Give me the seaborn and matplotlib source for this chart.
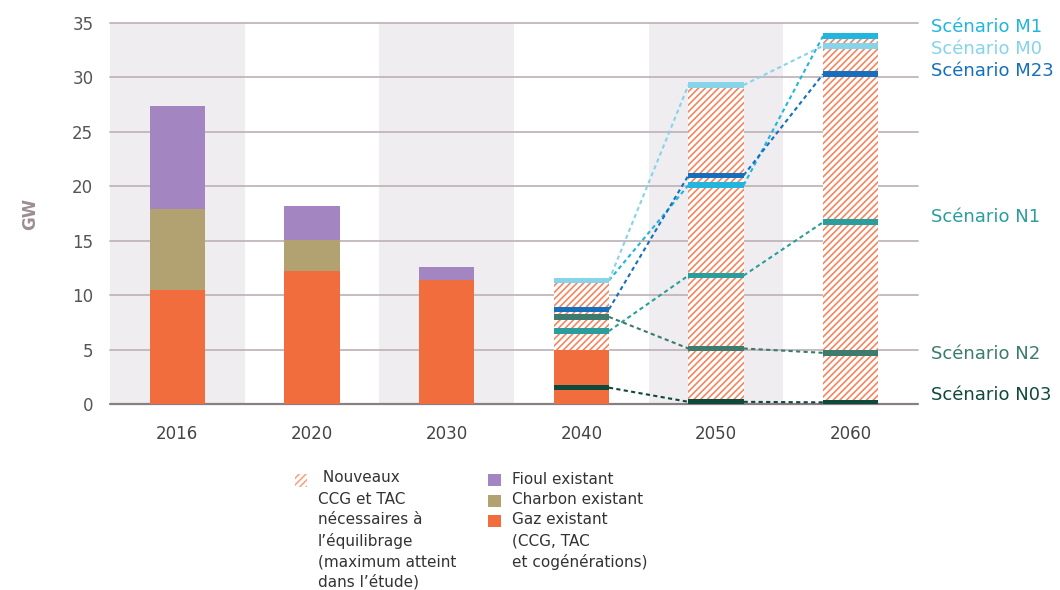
import matplotlib
matplotlib.use("Agg")
import matplotlib.pyplot as plt
from matplotlib.patches import Rectangle
import pandas as pd
import seaborn as sns

# ---- data (GW) ----
years = ["2016", "2020", "2030", "2040", "2050", "2060"]
gaz_existant = [10.5, 12.2, 11.4, 5.0, 0.5, 0.0]
charbon_existant = [7.4, 2.9, 0.0, 0.0, 0.0, 0.0]
fioul_existant = [9.5, 3.1, 1.2, 0.0, 0.0, 0.0]
nouveaux_ccg_tac = [0.0, 0.0, 0.0, 6.6, 29.05, 34.05]

scenario_years = ["2040", "2050", "2060"]
scenario_names = ["Scénario M1", "Scénario M0", "Scénario M23",
                  "Scénario N1", "Scénario N2", "Scénario N03"]
scen_m1 = [11.35, 20.1, 33.8]
scen_m0 = [11.35, 29.3, 32.9]
scen_m23 = [8.7, 21.0, 30.3]
scen_n1 = [6.7, 11.8, 16.7]
scen_n2 = [8.0, 5.1, 4.7]
scen_n03 = [1.5, 0.2, 0.15]

# ---- styling ----
C_GAZ = "#f26d3d"
C_CHARBON = "#b2a272"
C_FIOUL = "#a386c1"
C_HATCH = "#f5865f"
scenario_colors = ["#22b5de", "#86d3ea", "#156fbd", "#2a9e9c", "#3c7b6d", "#0e4a3b"]
label_y = [34.6, 32.6, 30.6, 17.2, 4.6, 0.8]
BAR_W = 0.41
BAND_H = 0.5

sns.set_theme(style="white")
plt.rcParams["font.family"] = ["DejaVu Sans"]
plt.rcParams["hatch.linewidth"] = 1.2

df = pd.DataFrame({
    "year": years,
    "gaz": gaz_existant,
    "charbon": charbon_existant,
    "fioul": fioul_existant,
    "nouveaux": nouveaux_ccg_tac,
})
df["top_gaz"] = df["gaz"]
df["top_charbon"] = df["top_gaz"] + df["charbon"]
df["top_fioul"] = df["top_charbon"] + df["fioul"]
df["top_nouveaux"] = df["top_fioul"] + df["nouveaux"]

fig = plt.figure(figsize=(10.6, 5.9), dpi=100)
ax = fig.add_axes([110 / 1060, 1 - 404 / 590, 808 / 1060, 381 / 590])
ax.set_facecolor("white")

# alternating background bands
for i in range(0, len(years), 2):
    ax.axvspan(i - 0.5, i + 0.5, color="#efedef", zorder=0, lw=0)

# horizontal gridlines
for v in range(0, 36, 5):
    ax.axhline(v, color="#8a7e85" if v == 0 else "#c0b5bb",
               lw=1.6 if v == 0 else 1.3, zorder=0.5, clip_on=False)

# stacked bars: drawn from the tallest cumulative layer down
common = dict(x="year", width=BAR_W, saturation=1, errorbar=None, ax=ax)
sns.barplot(data=df, y="top_nouveaux", color="white", edgecolor=C_HATCH,
            hatch="/////", linewidth=0, zorder=2, **common)
sns.barplot(data=df, y="top_fioul", color=C_FIOUL, linewidth=0, zorder=2, **common)
sns.barplot(data=df, y="top_charbon", color=C_CHARBON, linewidth=0, zorder=2, **common)
sns.barplot(data=df, y="top_gaz", color=C_GAZ, linewidth=0, zorder=2, **common)

# scenario levels and dotted connectors
scenarios = [scen_m1, scen_m0, scen_m23, scen_n1, scen_n2, scen_n03]
xpos = [years.index(y) for y in scenario_years]
for vals, col in zip(scenarios, scenario_colors):
    for k in range(len(xpos) - 1):
        ax.plot([xpos[k] + BAR_W / 2, xpos[k + 1] - BAR_W / 2],
                [vals[k], vals[k + 1]], color=col, lw=1.5,
                ls=(0, (2, 1.6)), zorder=3)
order = [3, 4, 2, 0, 1, 5]
for idx in order:
    vals, col = scenarios[idx], scenario_colors[idx]
    ax.bar(xpos, [BAND_H] * len(vals), bottom=[v - BAND_H / 2 for v in vals],
           width=BAR_W, color=col, lw=0, zorder=4)

for name, y, col in zip(scenario_names, label_y, scenario_colors):
    ax.text(1.016, y, name, transform=ax.get_yaxis_transform(), color=col,
            fontsize=13, va="center", ha="left", clip_on=False)

ax.set_xlim(-0.5, len(years) - 0.5)
ax.set_ylim(0, 35)
ax.set_yticks(range(0, 36, 5))
for s in ax.spines.values():
    s.set_visible(False)
ax.tick_params(axis="y", length=0, pad=12, labelsize=12, labelcolor="#555555")
ax.tick_params(axis="x", length=0, pad=15, labelsize=12, labelcolor="#444444")
ax.set_xlabel("")
ax.set_ylabel("GW", fontsize=12, fontweight="bold", color="#9c8c93", labelpad=24)
ax.grid(False)


# ---- legend below the chart ----
def fx(px):
    return px / 1060


def fy(py):
    return 1 - py / 590


TXT = "#333333"
fig.add_artist(Rectangle((fx(295), fy(487)), 12 / 1060, 13 / 590,
                         transform=fig.transFigure, facecolor="white",
                         edgecolor="#f7a386", hatch="/////", lw=0))
left_lines = [(" Nouveaux", 318, 478), ("CCG et TAC", 318, 499),
              ("nécessaires à", 318, 520), ("l’équilibrage", 318, 541),
              ("(maximum atteint", 318, 562), ("dans l’étude)", 318, 582)]
for t, x, y in left_lines:
    fig.text(fx(x), fy(y), t, fontsize=11, color=TXT, va="center", ha="left")

for col, y in [(C_FIOUL, 486), (C_CHARBON, 507), (C_GAZ, 527)]:
    fig.add_artist(Rectangle((fx(488), fy(y)), 13 / 1060, 12 / 590,
                             transform=fig.transFigure, facecolor=col, lw=0))
right_lines = [("Fioul existant", 479), ("Charbon existant", 500),
               ("Gaz existant", 520), ("(CCG, TAC", 541), ("et cogénérations)", 562)]
for t, y in right_lines:
    fig.text(fx(512), fy(y), t, fontsize=11, color=TXT, va="center", ha="left")

fig.savefig("out.png", dpi=100)
